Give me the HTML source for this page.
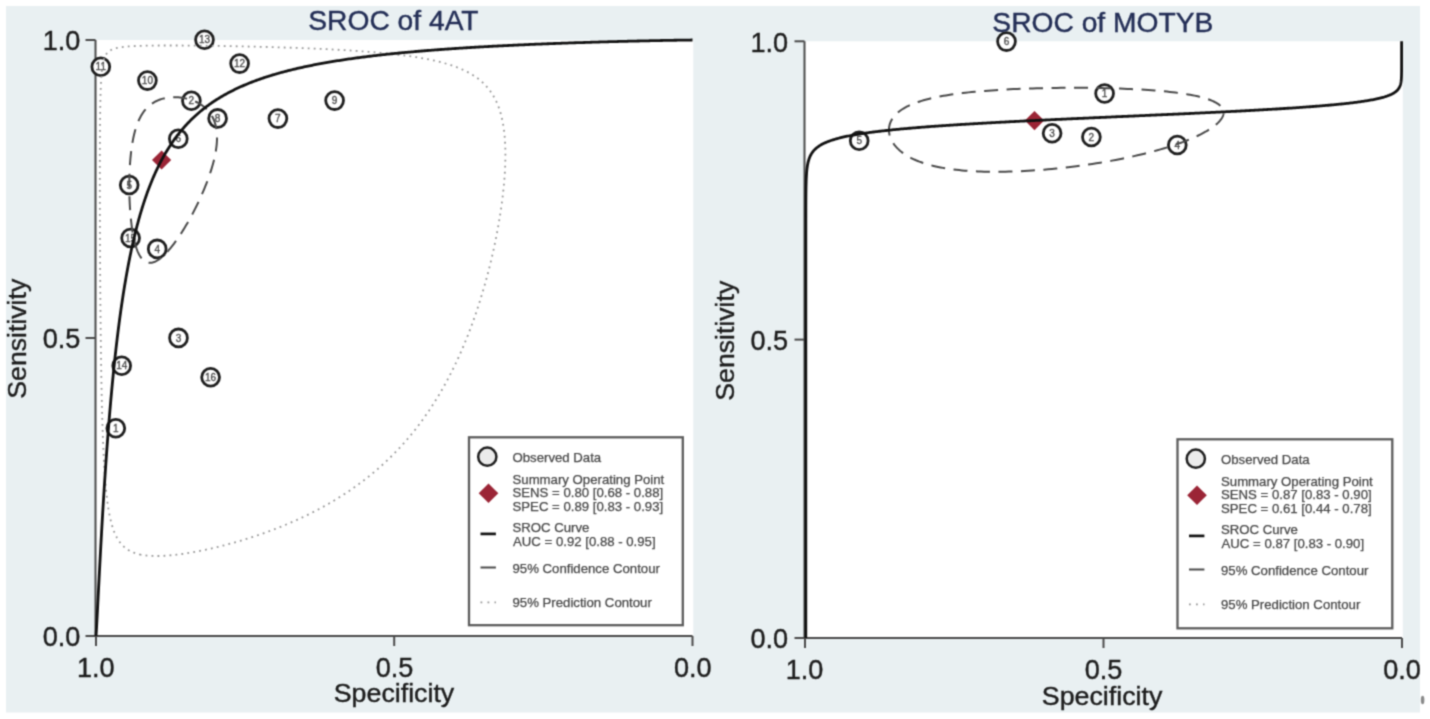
<!DOCTYPE html><html><head><meta charset="utf-8"><title>SROC</title><style>html,body{margin:0;padding:0;background:#fff;overflow:hidden}svg{display:block}</style></head><body>
<svg width="1430" height="719" viewBox="0 0 1430 719">
<defs><filter id="soft" x="0" y="0" width="1430" height="719" filterUnits="userSpaceOnUse" color-interpolation-filters="sRGB"><feConvolveMatrix order="3" kernelMatrix="1 3 1 3 9 3 1 3 1" edgeMode="duplicate" preserveAlpha="true"/></filter></defs>
<g filter="url(#soft)">
<rect width="1430" height="719" fill="#fff"/>
<rect x="6" y="6" width="1414" height="706.5" fill="#e9f0f2"/>
<rect x="96" y="40" width="597.3" height="596" fill="#fff"/>
<rect x="805" y="41.3" width="597.8" height="596.7" fill="#fff"/>
<rect x="469" y="437.3" width="213.79999999999995" height="187.90000000000003" fill="#fff" stroke="#5c5c5c" stroke-width="2.3"/>
<circle cx="487.3" cy="456.7" r="9.1" fill="#ebebeb" stroke="#1e1e1e" stroke-width="2.5"/>
<text x="512.51" y="462.20" font-size="13.2" fill="#474747" font-family="&apos;Liberation Sans&apos;, sans-serif"  stroke="#474747" stroke-width="0.25">Observed Data</text>
<path d="M488.5 483.4 L498.3 493.2 L488.5 503.0 L478.7 493.2 Z" fill="#9b2536"/>
<text x="512.51" y="483.70" font-size="13.2" fill="#474747" font-family="&apos;Liberation Sans&apos;, sans-serif"  stroke="#474747" stroke-width="0.25">Summary Operating Point</text>
<text x="512.51" y="497.40" font-size="13.2" fill="#474747" font-family="&apos;Liberation Sans&apos;, sans-serif"  stroke="#474747" stroke-width="0.25">SENS = 0.80 [0.68 - 0.88]</text>
<text x="512.51" y="510.60" font-size="13.2" fill="#474747" font-family="&apos;Liberation Sans&apos;, sans-serif"  stroke="#474747" stroke-width="0.25">SPEC = 0.89 [0.83 - 0.93]</text>
<path d="M480.5 533.9 H495.9" stroke="#111111" stroke-width="2.7"/>
<text x="512.51" y="532.40" font-size="13.2" fill="#474747" font-family="&apos;Liberation Sans&apos;, sans-serif"  stroke="#474747" stroke-width="0.25">SROC Curve</text>
<text x="513.03" y="545.90" font-size="13.2" fill="#474747" font-family="&apos;Liberation Sans&apos;, sans-serif"  stroke="#474747" stroke-width="0.25">AUC = 0.92 [0.88 - 0.95]</text>
<path d="M480.5 567.5 H495.9" stroke="#4a4a4a" stroke-width="2"/>
<text x="512.51" y="573.30" font-size="13.2" fill="#474747" font-family="&apos;Liberation Sans&apos;, sans-serif"  stroke="#474747" stroke-width="0.25">95% Confidence Contour</text>
<path d="M480.5 602.4 H496" stroke="#989898" stroke-width="1.8" stroke-dasharray="1.8 5.2"/>
<text x="512.51" y="607.10" font-size="13.2" fill="#474747" font-family="&apos;Liberation Sans&apos;, sans-serif"  stroke="#474747" stroke-width="0.25">95% Prediction Contour</text>
<rect x="1177.5" y="439.3" width="214.79999999999995" height="188.99999999999994" fill="#fff" stroke="#5c5c5c" stroke-width="2.3"/>
<circle cx="1195.8" cy="458.7" r="9.1" fill="#ebebeb" stroke="#1e1e1e" stroke-width="2.5"/>
<text x="1221.01" y="464.20" font-size="13.2" fill="#474747" font-family="&apos;Liberation Sans&apos;, sans-serif"  stroke="#474747" stroke-width="0.25">Observed Data</text>
<path d="M1197.0 485.4 L1206.8 495.2 L1197.0 505.0 L1187.2 495.2 Z" fill="#9b2536"/>
<text x="1221.01" y="485.70" font-size="13.2" fill="#474747" font-family="&apos;Liberation Sans&apos;, sans-serif"  stroke="#474747" stroke-width="0.25">Summary Operating Point</text>
<text x="1221.01" y="499.40" font-size="13.2" fill="#474747" font-family="&apos;Liberation Sans&apos;, sans-serif"  stroke="#474747" stroke-width="0.25">SENS = 0.87 [0.83 - 0.90]</text>
<text x="1221.01" y="512.60" font-size="13.2" fill="#474747" font-family="&apos;Liberation Sans&apos;, sans-serif"  stroke="#474747" stroke-width="0.25">SPEC = 0.61 [0.44 - 0.78]</text>
<path d="M1189.0 535.9 H1204.4" stroke="#111111" stroke-width="2.7"/>
<text x="1221.01" y="534.40" font-size="13.2" fill="#474747" font-family="&apos;Liberation Sans&apos;, sans-serif"  stroke="#474747" stroke-width="0.25">SROC Curve</text>
<text x="1221.53" y="547.90" font-size="13.2" fill="#474747" font-family="&apos;Liberation Sans&apos;, sans-serif"  stroke="#474747" stroke-width="0.25">AUC = 0.87 [0.83 - 0.90]</text>
<path d="M1189.0 569.5 H1204.4" stroke="#4a4a4a" stroke-width="2"/>
<text x="1221.01" y="575.30" font-size="13.2" fill="#474747" font-family="&apos;Liberation Sans&apos;, sans-serif"  stroke="#474747" stroke-width="0.25">95% Confidence Contour</text>
<path d="M1189.0 604.4 H1204.5" stroke="#989898" stroke-width="1.8" stroke-dasharray="1.8 5.2"/>
<text x="1221.01" y="609.10" font-size="13.2" fill="#474747" font-family="&apos;Liberation Sans&apos;, sans-serif"  stroke="#474747" stroke-width="0.25">95% Prediction Contour</text>
<g stroke="#4a4a4a" stroke-width="2" fill="none">
<path d="M95.5 40 V636"/>
<path d="M95.5 636 H692.5"/>
<path d="M85.5 636.0 H95.5"/>
<path d="M85.5 338.0 H95.5"/>
<path d="M85.5 40.0 H95.5"/>
<path d="M96.0 636 V646"/>
<path d="M394.2 636 V646"/>
<path d="M692.5 636 V646"/>
</g>
<g stroke="#4a4a4a" stroke-width="2" fill="none">
<path d="M804.5 41.3 V638"/>
<path d="M804.5 638 H1402"/>
<path d="M794.5 638.0 H804.5"/>
<path d="M794.5 339.6 H804.5"/>
<path d="M794.5 41.3 H804.5"/>
<path d="M805.0 638 V648"/>
<path d="M1103.5 638 V648"/>
<path d="M1402.0 638 V648"/>
</g>
<circle cx="115.8" cy="428.3" r="8.9" fill="#fff" stroke="#1e1e1e" stroke-width="2.8"/>
<text x="115.8" y="431.9" text-anchor="middle" font-size="10" fill="#4f4f4f" stroke="#4f4f4f" stroke-width="0.35" font-family="&apos;Liberation Sans&apos;, sans-serif">1</text>
<circle cx="191.4" cy="100.8" r="8.9" fill="#fff" stroke="#1e1e1e" stroke-width="2.8"/>
<text x="191.4" y="104.4" text-anchor="middle" font-size="10" fill="#4f4f4f" stroke="#4f4f4f" stroke-width="0.35" font-family="&apos;Liberation Sans&apos;, sans-serif">2</text>
<circle cx="178.5" cy="337.9" r="8.9" fill="#fff" stroke="#1e1e1e" stroke-width="2.8"/>
<text x="178.5" y="341.5" text-anchor="middle" font-size="10" fill="#4f4f4f" stroke="#4f4f4f" stroke-width="0.35" font-family="&apos;Liberation Sans&apos;, sans-serif">3</text>
<circle cx="157.2" cy="248.9" r="8.9" fill="#fff" stroke="#1e1e1e" stroke-width="2.8"/>
<text x="157.2" y="252.5" text-anchor="middle" font-size="10" fill="#4f4f4f" stroke="#4f4f4f" stroke-width="0.35" font-family="&apos;Liberation Sans&apos;, sans-serif">4</text>
<circle cx="129.2" cy="185" r="8.9" fill="#fff" stroke="#1e1e1e" stroke-width="2.8"/>
<text x="129.2" y="188.6" text-anchor="middle" font-size="10" fill="#4f4f4f" stroke="#4f4f4f" stroke-width="0.35" font-family="&apos;Liberation Sans&apos;, sans-serif">5</text>
<circle cx="178.3" cy="138.8" r="8.9" fill="#fff" stroke="#1e1e1e" stroke-width="2.8"/>
<text x="178.3" y="142.4" text-anchor="middle" font-size="10" fill="#4f4f4f" stroke="#4f4f4f" stroke-width="0.35" font-family="&apos;Liberation Sans&apos;, sans-serif">6</text>
<circle cx="277.9" cy="118.6" r="8.9" fill="#fff" stroke="#1e1e1e" stroke-width="2.8"/>
<text x="277.9" y="122.2" text-anchor="middle" font-size="10" fill="#4f4f4f" stroke="#4f4f4f" stroke-width="0.35" font-family="&apos;Liberation Sans&apos;, sans-serif">7</text>
<circle cx="217.6" cy="118.4" r="8.9" fill="#fff" stroke="#1e1e1e" stroke-width="2.8"/>
<text x="217.6" y="122.0" text-anchor="middle" font-size="10" fill="#4f4f4f" stroke="#4f4f4f" stroke-width="0.35" font-family="&apos;Liberation Sans&apos;, sans-serif">8</text>
<circle cx="334.6" cy="100.6" r="8.9" fill="#fff" stroke="#1e1e1e" stroke-width="2.8"/>
<text x="334.6" y="104.2" text-anchor="middle" font-size="10" fill="#4f4f4f" stroke="#4f4f4f" stroke-width="0.35" font-family="&apos;Liberation Sans&apos;, sans-serif">9</text>
<circle cx="147.4" cy="80.6" r="8.9" fill="#fff" stroke="#1e1e1e" stroke-width="2.8"/>
<text x="147.4" y="84.2" text-anchor="middle" font-size="10" fill="#4f4f4f" stroke="#4f4f4f" stroke-width="0.35" font-family="&apos;Liberation Sans&apos;, sans-serif">10</text>
<circle cx="100.8" cy="66.7" r="8.9" fill="#fff" stroke="#1e1e1e" stroke-width="2.8"/>
<text x="100.8" y="70.3" text-anchor="middle" font-size="10" fill="#4f4f4f" stroke="#4f4f4f" stroke-width="0.35" font-family="&apos;Liberation Sans&apos;, sans-serif">11</text>
<circle cx="239.6" cy="63.6" r="8.9" fill="#fff" stroke="#1e1e1e" stroke-width="2.8"/>
<text x="239.6" y="67.2" text-anchor="middle" font-size="10" fill="#4f4f4f" stroke="#4f4f4f" stroke-width="0.35" font-family="&apos;Liberation Sans&apos;, sans-serif">12</text>
<circle cx="204.5" cy="39.8" r="8.9" fill="#fff" stroke="#1e1e1e" stroke-width="2.8"/>
<text x="204.5" y="43.4" text-anchor="middle" font-size="10" fill="#4f4f4f" stroke="#4f4f4f" stroke-width="0.35" font-family="&apos;Liberation Sans&apos;, sans-serif">13</text>
<circle cx="121.7" cy="365.8" r="8.9" fill="#fff" stroke="#1e1e1e" stroke-width="2.8"/>
<text x="121.7" y="369.4" text-anchor="middle" font-size="10" fill="#4f4f4f" stroke="#4f4f4f" stroke-width="0.35" font-family="&apos;Liberation Sans&apos;, sans-serif">14</text>
<circle cx="130.6" cy="238" r="8.9" fill="#fff" stroke="#1e1e1e" stroke-width="2.8"/>
<text x="130.6" y="241.6" text-anchor="middle" font-size="10" fill="#4f4f4f" stroke="#4f4f4f" stroke-width="0.35" font-family="&apos;Liberation Sans&apos;, sans-serif">15</text>
<circle cx="210.6" cy="377.2" r="8.9" fill="#fff" stroke="#1e1e1e" stroke-width="2.8"/>
<text x="210.6" y="380.8" text-anchor="middle" font-size="10" fill="#4f4f4f" stroke="#4f4f4f" stroke-width="0.35" font-family="&apos;Liberation Sans&apos;, sans-serif">16</text>
<circle cx="1104.6" cy="93.5" r="8.9" fill="#fff" stroke="#1e1e1e" stroke-width="2.8"/>
<text x="1104.6" y="97.1" text-anchor="middle" font-size="10" fill="#4f4f4f" stroke="#4f4f4f" stroke-width="0.35" font-family="&apos;Liberation Sans&apos;, sans-serif">1</text>
<circle cx="1091.4" cy="137" r="8.9" fill="#fff" stroke="#1e1e1e" stroke-width="2.8"/>
<text x="1091.4" y="140.6" text-anchor="middle" font-size="10" fill="#4f4f4f" stroke="#4f4f4f" stroke-width="0.35" font-family="&apos;Liberation Sans&apos;, sans-serif">2</text>
<circle cx="1052.1" cy="133.2" r="8.9" fill="#fff" stroke="#1e1e1e" stroke-width="2.8"/>
<text x="1052.1" y="136.8" text-anchor="middle" font-size="10" fill="#4f4f4f" stroke="#4f4f4f" stroke-width="0.35" font-family="&apos;Liberation Sans&apos;, sans-serif">3</text>
<circle cx="1177.3" cy="145" r="8.9" fill="#fff" stroke="#1e1e1e" stroke-width="2.8"/>
<text x="1177.3" y="148.6" text-anchor="middle" font-size="10" fill="#4f4f4f" stroke="#4f4f4f" stroke-width="0.35" font-family="&apos;Liberation Sans&apos;, sans-serif">4</text>
<circle cx="859.2" cy="140.8" r="8.9" fill="#fff" stroke="#1e1e1e" stroke-width="2.8"/>
<text x="859.2" y="144.4" text-anchor="middle" font-size="10" fill="#4f4f4f" stroke="#4f4f4f" stroke-width="0.35" font-family="&apos;Liberation Sans&apos;, sans-serif">5</text>
<circle cx="1006.5" cy="41.6" r="8.9" fill="#fff" stroke="#1e1e1e" stroke-width="2.8"/>
<text x="1006.5" y="45.2" text-anchor="middle" font-size="10" fill="#4f4f4f" stroke="#4f4f4f" stroke-width="0.35" font-family="&apos;Liberation Sans&apos;, sans-serif">6</text>
<path d="M161.6 150.4 L171.2 160 L161.6 169.6 L152.0 160 Z" fill="#9b2536"/>
<path d="M1034.5 111.0 L1044.1 120.6 L1034.5 130.2 L1024.9 120.6 Z" fill="#9b2536"/>
<path d="M140.87 554.67 L139.40 554.35 L137.97 554.00 L136.59 553.61 L135.26 553.18 L133.97 552.72 L132.72 552.23 L131.51 551.69 L130.34 551.12 L129.21 550.52 L128.12 549.87 L127.07 549.19 L126.05 548.46 L125.07 547.70 L124.12 546.89 L123.20 546.05 L122.32 545.16 L121.46 544.23 L120.64 543.25 L119.84 542.23 L119.07 541.16 L118.33 540.04 L117.61 538.88 L116.92 537.67 L116.26 536.41 L115.62 535.09 L115.00 533.72 L114.40 532.30 L113.82 530.83 L113.27 529.30 L112.73 527.71 L112.22 526.06 L111.72 524.35 L111.24 522.58 L110.78 520.74 L110.34 518.84 L109.91 516.88 L109.49 514.84 L109.09 512.74 L108.71 510.57 L108.34 508.33 L107.98 506.01 L107.64 503.61 L107.31 501.14 L106.99 498.60 L106.69 495.97 L106.39 493.26 L106.11 490.47 L105.83 487.59 L105.57 484.63 L105.31 481.59 L105.07 478.46 L104.83 475.23 L104.61 471.92 L104.39 468.52 L104.18 465.03 L103.98 461.45 L103.78 457.77 L103.59 454.00 L103.41 450.14 L103.24 446.18 L103.07 442.14 L102.91 438.00 L102.76 433.76 L102.61 429.44 L102.47 425.02 L102.33 420.51 L102.20 415.92 L102.07 411.23 L101.95 406.47 L101.83 401.62 L101.72 396.68 L101.61 391.67 L101.51 386.58 L101.41 381.42 L101.31 376.19 L101.22 370.90 L101.14 365.54 L101.05 360.12 L100.97 354.65 L100.89 349.12 L100.82 343.56 L100.75 337.95 L100.68 332.31 L100.62 326.63 L100.56 320.94 L100.50 315.22 L100.45 309.49 L100.39 303.75 L100.34 298.01 L100.30 292.27 L100.25 286.54 L100.21 280.82 L100.17 275.13 L100.13 269.46 L100.10 263.82 L100.07 258.23 L100.04 252.67 L100.01 247.16 L99.98 241.70 L99.96 236.31 L99.94 230.97 L99.92 225.70 L99.90 220.50 L99.88 215.37 L99.87 210.33 L99.86 205.36 L99.85 200.48 L99.84 195.69 L99.83 190.98 L99.83 186.37 L99.83 181.86 L99.83 177.43 L99.83 173.11 L99.83 168.88 L99.84 164.76 L99.84 160.73 L99.85 156.81 L99.86 152.98 L99.88 149.26 L99.89 145.63 L99.91 142.11 L99.92 138.68 L99.94 135.36 L99.97 132.13 L99.99 128.99 L100.02 125.95 L100.04 123.01 L100.07 120.16 L100.11 117.40 L100.14 114.72 L100.18 112.14 L100.21 109.64 L100.25 107.22 L100.30 104.88 L100.34 102.63 L100.39 100.45 L100.44 98.35 L100.49 96.32 L100.54 94.36 L100.60 92.47 L100.66 90.65 L100.72 88.90 L100.79 87.20 L100.86 85.57 L100.93 84.00 L101.00 82.49 L101.08 81.03 L101.16 79.63 L101.24 78.28 L101.33 76.98 L101.42 75.73 L101.51 74.52 L101.61 73.36 L101.71 72.25 L101.81 71.18 L101.92 70.14 L102.04 69.15 L102.15 68.19 L102.27 67.27 L102.40 66.39 L102.53 65.54 L102.67 64.72 L102.81 63.93 L102.95 63.17 L103.11 62.45 L103.26 61.74 L103.43 61.07 L103.59 60.42 L103.77 59.80 L103.95 59.20 L104.14 58.62 L104.33 58.07 L104.54 57.53 L104.75 57.02 L104.97 56.52 L105.19 56.05 L105.43 55.59 L105.67 55.15 L105.92 54.73 L106.18 54.32 L106.45 53.93 L106.73 53.55 L107.03 53.19 L107.33 52.84 L107.64 52.50 L107.97 52.18 L108.31 51.87 L108.66 51.57 L109.02 51.28 L109.40 51.01 L109.79 50.74 L110.19 50.49 L110.62 50.24 L111.05 50.00 L111.51 49.78 L111.98 49.56 L112.47 49.35 L112.97 49.14 L113.50 48.95 L114.04 48.76 L114.61 48.58 L115.20 48.41 L115.81 48.25 L116.44 48.09 L117.10 47.93 L117.78 47.79 L118.49 47.65 L119.22 47.51 L119.98 47.38 L120.77 47.26 L121.59 47.14 L122.44 47.03 L123.33 46.92 L124.24 46.82 L125.19 46.72 L126.17 46.62 L127.19 46.53 L128.25 46.45 L129.34 46.37 L130.48 46.29 L131.65 46.22 L132.87 46.15 L134.13 46.08 L135.43 46.02 L136.78 45.96 L138.18 45.91 L139.63 45.86 L141.12 45.81 L142.67 45.77 L144.27 45.73 L145.92 45.69 L147.63 45.65 L149.40 45.62 L151.22 45.60 L153.10 45.57 L155.03 45.55 L157.03 45.53 L159.09 45.52 L161.22 45.50 L163.40 45.50 L165.65 45.49 L167.97 45.49 L170.35 45.49 L172.80 45.49 L175.32 45.50 L177.90 45.51 L180.56 45.52 L183.28 45.53 L186.06 45.55 L188.92 45.58 L191.85 45.60 L194.84 45.63 L197.91 45.66 L201.04 45.70 L204.23 45.74 L207.50 45.78 L210.83 45.82 L214.22 45.87 L217.68 45.93 L221.19 45.98 L224.77 46.04 L228.41 46.11 L232.11 46.18 L235.86 46.25 L239.66 46.33 L243.52 46.41 L247.42 46.49 L251.37 46.59 L255.36 46.68 L259.40 46.78 L263.47 46.89 L267.58 47.00 L271.72 47.11 L275.89 47.24 L280.09 47.36 L284.31 47.50 L288.55 47.64 L292.81 47.78 L297.08 47.93 L301.36 48.09 L305.65 48.26 L309.94 48.43 L314.24 48.62 L318.53 48.81 L322.81 49.00 L327.08 49.21 L331.34 49.42 L335.59 49.65 L339.82 49.88 L344.02 50.12 L348.20 50.38 L352.36 50.64 L356.48 50.92 L360.57 51.20 L364.62 51.50 L368.64 51.81 L372.61 52.14 L376.55 52.47 L380.44 52.83 L384.28 53.19 L388.07 53.57 L391.82 53.97 L395.51 54.38 L399.15 54.81 L402.73 55.26 L406.26 55.72 L409.73 56.21 L413.14 56.71 L416.50 57.23 L419.79 57.78 L423.02 58.35 L426.19 58.94 L429.29 59.55 L432.34 60.19 L435.32 60.86 L438.23 61.55 L441.08 62.27 L443.87 63.02 L446.59 63.80 L449.25 64.61 L451.85 65.45 L454.37 66.33 L456.84 67.24 L459.24 68.19 L461.57 69.17 L463.84 70.19 L466.05 71.26 L468.19 72.36 L470.27 73.51 L472.29 74.70 L474.24 75.94 L476.13 77.23 L477.96 78.57 L479.72 79.96 L481.43 81.40 L483.07 82.89 L484.65 84.45 L486.17 86.06 L487.63 87.73 L489.03 89.46 L490.37 91.25 L491.66 93.11 L492.88 95.04 L494.04 97.04 L495.15 99.11 L496.20 101.25 L497.19 103.47 L498.12 105.76 L499.00 108.13 L499.82 110.58 L500.58 113.12 L501.29 115.74 L501.94 118.44 L502.54 121.23 L503.07 124.11 L503.56 127.07 L503.98 130.13 L504.35 133.28 L504.67 136.53 L504.93 139.87 L505.13 143.30 L505.28 146.83 L505.37 150.46 L505.41 154.18 L505.39 158.00 L505.31 161.92 L505.18 165.93 L504.99 170.04 L504.74 174.25 L504.44 178.55 L504.08 182.94 L503.66 187.43 L503.19 192.00 L502.65 196.67 L502.06 201.42 L501.41 206.26 L500.70 211.17 L499.93 216.17 L499.10 221.24 L498.21 226.39 L497.25 231.60 L496.24 236.88 L495.16 242.22 L494.03 247.62 L492.83 253.07 L491.56 258.56 L490.23 264.10 L488.84 269.68 L487.39 275.29 L485.86 280.93 L484.27 286.58 L482.62 292.26 L480.90 297.95 L479.11 303.64 L477.25 309.33 L475.33 315.02 L473.34 320.70 L471.28 326.36 L469.15 332.00 L466.95 337.61 L464.68 343.19 L462.34 348.74 L459.93 354.25 L457.45 359.70 L454.91 365.11 L452.29 370.47 L449.60 375.76 L446.84 381.00 L444.01 386.17 L441.12 391.26 L438.15 396.29 L435.12 401.24 L432.02 406.11 L428.85 410.90 L425.62 415.61 L422.32 420.24 L418.95 424.77 L415.53 429.22 L412.04 433.59 L408.49 437.86 L404.88 442.04 L401.21 446.12 L397.49 450.12 L393.71 454.02 L389.88 457.83 L386.00 461.55 L382.07 465.18 L378.10 468.71 L374.08 472.15 L370.03 475.50 L365.93 478.77 L361.80 481.94 L357.63 485.02 L353.43 488.02 L349.21 490.93 L344.96 493.75 L340.69 496.50 L336.41 499.16 L332.11 501.73 L327.79 504.23 L323.47 506.65 L319.15 509.00 L314.82 511.26 L310.49 513.46 L306.17 515.58 L301.86 517.63 L297.56 519.61 L293.28 521.52 L289.01 523.37 L284.77 525.15 L280.55 526.87 L276.35 528.52 L272.19 530.11 L268.06 531.65 L263.97 533.12 L259.92 534.54 L255.91 535.91 L251.94 537.21 L248.02 538.47 L244.15 539.67 L240.33 540.83 L236.56 541.93 L232.85 542.99 L229.19 543.99 L225.59 544.95 L222.05 545.87 L218.57 546.74 L215.16 547.56 L211.80 548.35 L208.51 549.09 L205.29 549.79 L202.13 550.45 L199.03 551.07 L196.01 551.65 L193.04 552.19 L190.15 552.70 L187.32 553.16 L184.55 553.59 L181.86 553.99 L179.23 554.35 L176.66 554.67 L174.16 554.96 L171.72 555.21 L169.35 555.43 L167.04 555.61 L164.80 555.76 L162.61 555.88 L160.49 555.96 L158.43 556.01 L156.42 556.03 L154.48 556.01 L152.59 555.96 L150.75 555.88 L148.98 555.76 L147.25 555.61 L145.58 555.42 L143.96 555.21 L142.39 554.96 L140.87 554.67 Z" fill="none" stroke="#989898" stroke-width="1.8" stroke-dasharray="1.8 4.2"/>
<path d="M138.87 254.05 L138.41 253.08 L137.95 252.07 L137.51 251.02 L137.08 249.92 L136.66 248.78 L136.26 247.60 L135.87 246.37 L135.49 245.11 L135.12 243.80 L134.77 242.46 L134.42 241.07 L134.09 239.65 L133.77 238.20 L133.47 236.71 L133.17 235.19 L132.89 233.63 L132.61 232.05 L132.35 230.43 L132.10 228.79 L131.86 227.12 L131.63 225.42 L131.42 223.70 L131.21 221.96 L131.02 220.20 L130.83 218.41 L130.66 216.61 L130.50 214.79 L130.34 212.95 L130.20 211.10 L130.07 209.23 L129.95 207.36 L129.84 205.47 L129.74 203.57 L129.65 201.67 L129.57 199.76 L129.50 197.85 L129.44 195.93 L129.39 194.01 L129.36 192.09 L129.33 190.17 L129.31 188.25 L129.30 186.33 L129.30 184.42 L129.31 182.51 L129.34 180.62 L129.37 178.72 L129.41 176.84 L129.47 174.97 L129.53 173.11 L129.60 171.26 L129.68 169.43 L129.78 167.61 L129.88 165.80 L130.00 164.01 L130.12 162.24 L130.26 160.49 L130.40 158.75 L130.56 157.04 L130.73 155.34 L130.90 153.67 L131.09 152.01 L131.29 150.38 L131.50 148.77 L131.72 147.18 L131.96 145.62 L132.20 144.08 L132.46 142.57 L132.72 141.08 L133.00 139.61 L133.29 138.17 L133.59 136.76 L133.90 135.37 L134.22 134.00 L134.56 132.67 L134.91 131.36 L135.27 130.07 L135.64 128.81 L136.02 127.58 L136.42 126.38 L136.83 125.20 L137.25 124.05 L137.69 122.92 L138.13 121.82 L138.59 120.75 L139.07 119.71 L139.55 118.69 L140.05 117.69 L140.56 116.72 L141.09 115.78 L141.62 114.87 L142.17 113.98 L142.74 113.11 L143.32 112.27 L143.91 111.46 L144.51 110.67 L145.13 109.90 L145.76 109.16 L146.41 108.44 L147.07 107.75 L147.74 107.08 L148.42 106.44 L149.12 105.82 L149.84 105.22 L150.56 104.64 L151.30 104.09 L152.05 103.56 L152.81 103.05 L153.59 102.57 L154.38 102.10 L155.18 101.66 L156.00 101.24 L156.83 100.84 L157.67 100.47 L158.52 100.11 L159.38 99.78 L160.25 99.46 L161.14 99.17 L162.03 98.90 L162.94 98.65 L163.85 98.42 L164.78 98.21 L165.71 98.02 L166.66 97.85 L167.61 97.70 L168.57 97.56 L169.54 97.45 L170.51 97.36 L171.49 97.29 L172.48 97.24 L173.47 97.21 L174.47 97.20 L175.47 97.21 L176.48 97.23 L177.49 97.28 L178.50 97.35 L179.52 97.44 L180.53 97.54 L181.55 97.67 L182.57 97.82 L183.58 97.98 L184.60 98.17 L185.61 98.38 L186.62 98.60 L187.62 98.85 L188.63 99.12 L189.62 99.41 L190.61 99.72 L191.60 100.05 L192.57 100.40 L193.54 100.77 L194.50 101.17 L195.45 101.58 L196.38 102.02 L197.31 102.48 L198.22 102.96 L199.12 103.46 L200.01 103.99 L200.88 104.54 L201.74 105.11 L202.58 105.70 L203.40 106.32 L204.21 106.96 L204.99 107.62 L205.76 108.31 L206.51 109.02 L207.24 109.76 L207.94 110.52 L208.62 111.31 L209.29 112.12 L209.92 112.95 L210.54 113.81 L211.12 114.70 L211.69 115.61 L212.22 116.55 L212.74 117.51 L213.22 118.50 L213.68 119.51 L214.11 120.55 L214.51 121.62 L214.88 122.72 L215.22 123.84 L215.54 124.98 L215.82 126.16 L216.08 127.36 L216.30 128.58 L216.50 129.83 L216.66 131.11 L216.79 132.42 L216.90 133.75 L216.97 135.11 L217.01 136.49 L217.02 137.90 L217.00 139.34 L216.94 140.80 L216.86 142.29 L216.74 143.80 L216.60 145.33 L216.42 146.89 L216.22 148.47 L215.98 150.08 L215.71 151.71 L215.41 153.36 L215.09 155.03 L214.73 156.72 L214.35 158.43 L213.94 160.16 L213.50 161.91 L213.03 163.68 L212.53 165.47 L212.01 167.27 L211.46 169.09 L210.89 170.92 L210.29 172.77 L209.67 174.62 L209.02 176.49 L208.35 178.37 L207.66 180.26 L206.95 182.16 L206.21 184.06 L205.45 185.97 L204.68 187.89 L203.89 189.81 L203.07 191.73 L202.24 193.65 L201.40 195.57 L200.53 197.49 L199.65 199.40 L198.76 201.31 L197.86 203.22 L196.94 205.12 L196.01 207.01 L195.06 208.89 L194.11 210.75 L193.15 212.61 L192.18 214.45 L191.20 216.27 L190.21 218.08 L189.22 219.87 L188.22 221.63 L187.22 223.38 L186.21 225.11 L185.20 226.81 L184.19 228.48 L183.17 230.13 L182.16 231.75 L181.14 233.34 L180.12 234.90 L179.11 236.43 L178.09 237.92 L177.08 239.38 L176.07 240.81 L175.07 242.20 L174.07 243.55 L173.07 244.87 L172.08 246.14 L171.10 247.37 L170.12 248.56 L169.14 249.71 L168.18 250.82 L167.22 251.88 L166.27 252.90 L165.33 253.87 L164.40 254.79 L163.48 255.67 L162.57 256.50 L161.67 257.28 L160.78 258.01 L159.90 258.70 L159.03 259.33 L158.17 259.91 L157.33 260.44 L156.49 260.92 L155.67 261.35 L154.86 261.72 L154.06 262.04 L153.28 262.32 L152.50 262.53 L151.75 262.70 L151.00 262.81 L150.27 262.87 L149.55 262.87 L148.84 262.82 L148.15 262.72 L147.47 262.57 L146.80 262.36 L146.15 262.10 L145.51 261.79 L144.88 261.42 L144.27 261.00 L143.67 260.53 L143.08 260.01 L142.51 259.44 L141.95 258.82 L141.40 258.15 L140.87 257.42 L140.35 256.65 L139.85 255.83 L139.35 254.96 L138.87 254.05 Z" fill="none" stroke="#4a4a4a" stroke-width="2" stroke-dasharray="14 8.5"/>
<path d="M96.00 636.00 L96.08 635.00 L96.15 633.99 L96.22 632.97 L96.28 631.94 L96.34 630.90 L96.40 629.89 L96.46 628.85 L96.52 627.81 L96.58 626.74 L96.64 625.64 L96.70 624.54 L96.76 623.47 L96.81 622.45 L96.87 621.35 L96.93 620.34 L96.98 619.26 L97.04 618.11 L97.10 617.09 L97.15 616.02 L97.21 614.89 L97.28 613.70 L97.33 612.70 L97.38 611.65 L97.44 610.56 L97.50 609.43 L97.56 608.25 L97.62 607.01 L97.69 605.73 L97.75 604.39 L97.81 603.35 L97.86 602.28 L97.92 601.17 L97.98 600.03 L98.04 598.86 L98.10 597.65 L98.16 596.40 L98.23 595.12 L98.30 593.80 L98.37 592.44 L98.44 591.03 L98.51 589.59 L98.59 588.10 L98.64 587.09 L98.69 586.05 L98.75 585.00 L98.80 583.93 L98.86 582.83 L98.92 581.72 L98.98 580.58 L99.04 579.42 L99.10 578.24 L99.16 577.04 L99.22 575.82 L99.29 574.57 L99.35 573.31 L99.42 572.01 L99.49 570.70 L99.56 569.36 L99.63 568.00 L99.70 566.61 L99.78 565.20 L99.85 563.77 L99.93 562.31 L100.01 560.82 L100.09 559.31 L100.17 557.77 L100.26 556.21 L100.34 554.62 L100.43 553.00 L100.52 551.36 L100.61 549.69 L100.70 547.99 L100.79 546.26 L100.89 544.51 L100.99 542.73 L101.09 540.92 L101.19 539.08 L101.29 537.22 L101.40 535.32 L101.51 533.40 L101.62 531.45 L101.73 529.47 L101.79 528.46 L101.85 527.46 L101.90 526.44 L101.96 525.42 L102.02 524.38 L102.08 523.35 L102.14 522.30 L102.20 521.25 L102.26 520.19 L102.33 519.12 L102.39 518.04 L102.45 516.96 L102.52 515.87 L102.58 514.77 L102.65 513.67 L102.71 512.55 L102.78 511.43 L102.85 510.31 L102.92 509.17 L102.98 508.03 L103.05 506.88 L103.12 505.72 L103.20 504.56 L103.27 503.38 L103.34 502.20 L103.41 501.02 L103.49 499.82 L103.56 498.62 L103.63 497.41 L103.71 496.19 L103.79 494.97 L103.86 493.74 L103.94 492.50 L104.02 491.25 L104.10 490.00 L104.18 488.74 L104.26 487.47 L104.34 486.19 L104.43 484.91 L104.51 483.62 L104.59 482.32 L104.68 481.02 L104.76 479.70 L104.85 478.39 L104.94 477.06 L105.03 475.73 L105.12 474.39 L105.21 473.04 L105.30 471.69 L105.39 470.32 L105.48 468.96 L105.58 467.58 L105.67 466.20 L105.77 464.81 L105.86 463.42 L105.96 462.01 L106.06 460.61 L106.16 459.19 L106.26 457.77 L106.36 456.34 L106.46 454.91 L106.57 453.46 L106.67 452.02 L106.78 450.56 L106.88 449.10 L106.99 447.64 L107.10 446.16 L107.21 444.68 L107.32 443.20 L107.43 441.71 L107.54 440.21 L107.66 438.71 L107.77 437.20 L107.89 435.69 L108.00 434.17 L108.12 432.64 L108.24 431.11 L108.36 429.57 L108.48 428.03 L108.61 426.48 L108.73 424.93 L108.86 423.37 L108.98 421.81 L109.11 420.24 L109.24 418.67 L109.37 417.09 L109.50 415.51 L109.63 413.92 L109.77 412.33 L109.90 410.74 L110.04 409.14 L110.18 407.53 L110.32 405.92 L110.46 404.31 L110.60 402.69 L110.74 401.07 L110.88 399.44 L111.03 397.81 L111.18 396.18 L111.33 394.55 L111.48 392.91 L111.63 391.26 L111.78 389.61 L111.94 387.96 L112.09 386.31 L112.25 384.65 L112.41 382.99 L112.57 381.33 L112.73 379.67 L112.89 378.00 L113.06 376.33 L113.22 374.66 L113.39 372.98 L113.56 371.30 L113.73 369.62 L113.91 367.94 L114.08 366.26 L114.26 364.57 L114.44 362.89 L114.61 361.20 L114.80 359.51 L114.98 357.82 L115.16 356.12 L115.35 354.43 L115.54 352.74 L115.73 351.04 L115.92 349.34 L116.11 347.65 L116.31 345.95 L116.51 344.25 L116.70 342.55 L116.91 340.85 L117.11 339.15 L117.31 337.45 L117.52 335.75 L117.73 334.05 L117.94 332.35 L118.15 330.65 L118.36 328.96 L118.58 327.26 L118.80 325.56 L119.02 323.86 L119.24 322.17 L119.47 320.47 L119.69 318.78 L119.92 317.09 L120.15 315.40 L120.38 313.71 L120.62 312.02 L120.86 310.34 L121.10 308.65 L121.34 306.97 L121.58 305.29 L121.83 303.61 L122.08 301.94 L122.33 300.26 L122.58 298.59 L122.83 296.92 L123.09 295.26 L123.35 293.59 L123.61 291.93 L123.88 290.28 L124.15 288.62 L124.41 286.97 L124.69 285.32 L124.96 283.68 L125.24 282.03 L125.52 280.40 L125.80 278.76 L126.08 277.13 L126.37 275.51 L126.66 273.88 L126.95 272.26 L127.25 270.65 L127.54 269.04 L127.84 267.43 L128.15 265.83 L128.45 264.23 L128.76 262.64 L129.07 261.05 L129.39 259.47 L129.70 257.89 L130.02 256.31 L130.34 254.74 L130.67 253.18 L131.00 251.62 L131.33 250.06 L131.66 248.52 L132.00 246.97 L132.34 245.43 L132.68 243.90 L133.03 242.37 L133.38 240.85 L133.73 239.33 L134.08 237.82 L134.44 236.32 L134.80 234.82 L135.17 233.33 L135.53 231.84 L135.91 230.36 L136.28 228.89 L136.66 227.42 L137.04 225.95 L137.42 224.50 L137.81 223.05 L138.20 221.60 L138.59 220.17 L138.99 218.74 L139.39 217.31 L139.79 215.89 L140.20 214.48 L140.61 213.08 L141.03 211.68 L141.45 210.29 L141.87 208.91 L142.29 207.53 L142.72 206.16 L143.15 204.80 L143.59 203.44 L144.03 202.09 L144.47 200.75 L144.92 199.41 L145.37 198.08 L145.83 196.76 L146.29 195.45 L146.75 194.14 L147.21 192.84 L147.68 191.55 L148.16 190.26 L148.64 188.98 L149.12 187.71 L149.60 186.45 L150.09 185.19 L150.59 183.94 L151.09 182.70 L151.59 181.47 L152.09 180.24 L152.60 179.02 L153.12 177.81 L153.64 176.60 L154.16 175.41 L154.69 174.22 L155.22 173.03 L155.75 171.86 L156.29 170.69 L156.84 169.53 L157.39 168.38 L157.94 167.23 L158.50 166.10 L159.06 164.96 L159.63 163.84 L160.20 162.73 L160.77 161.62 L161.35 160.52 L161.94 159.43 L162.52 158.34 L163.12 157.26 L163.72 156.19 L164.32 155.13 L164.93 154.07 L165.54 153.02 L166.15 151.98 L166.78 150.95 L167.40 149.92 L168.03 148.90 L168.67 147.89 L169.31 146.89 L169.96 145.89 L170.61 144.90 L171.26 143.92 L171.92 142.94 L172.59 141.98 L173.26 141.01 L173.93 140.06 L174.61 139.12 L175.30 138.18 L175.99 137.24 L176.68 136.32 L177.38 135.40 L178.09 134.49 L178.80 133.59 L179.51 132.69 L180.24 131.80 L180.96 130.92 L181.69 130.04 L182.43 129.18 L183.17 128.31 L183.92 127.46 L184.67 126.61 L185.43 125.77 L186.19 124.94 L186.96 124.11 L187.73 123.29 L188.51 122.47 L189.30 121.67 L190.09 120.87 L190.88 120.07 L191.68 119.29 L192.49 118.50 L193.30 117.73 L194.12 116.96 L194.94 116.20 L195.77 115.45 L196.60 114.70 L197.44 113.96 L198.29 113.22 L199.14 112.49 L199.99 111.77 L200.85 111.05 L201.72 110.34 L202.59 109.63 L203.47 108.94 L204.36 108.24 L205.25 107.56 L206.14 106.88 L207.04 106.20 L207.95 105.53 L208.86 104.87 L209.78 104.22 L210.70 103.57 L211.63 102.92 L212.57 102.28 L213.51 101.65 L214.45 101.02 L215.41 100.40 L216.37 99.78 L217.33 99.17 L218.30 98.57 L219.27 97.97 L220.25 97.37 L221.24 96.78 L222.23 96.20 L223.23 95.62 L224.24 95.05 L225.25 94.48 L226.26 93.92 L227.28 93.36 L228.31 92.81 L229.34 92.27 L230.38 91.72 L231.42 91.19 L232.47 90.66 L233.53 90.13 L234.59 89.61 L235.66 89.09 L236.73 88.58 L237.81 88.07 L238.89 87.57 L239.98 87.08 L241.08 86.58 L242.18 86.10 L243.28 85.61 L244.40 85.14 L245.51 84.66 L246.64 84.19 L247.77 83.73 L248.90 83.27 L250.04 82.81 L251.19 82.36 L252.34 81.92 L253.49 81.47 L254.66 81.03 L255.82 80.60 L257.00 80.17 L258.17 79.75 L259.36 79.33 L260.55 78.91 L261.74 78.50 L262.94 78.09 L264.15 77.68 L265.36 77.28 L266.57 76.88 L267.79 76.49 L269.02 76.10 L270.25 75.72 L271.49 75.34 L272.73 74.96 L273.97 74.59 L275.22 74.22 L276.48 73.85 L277.74 73.49 L279.01 73.13 L280.28 72.77 L281.56 72.42 L282.84 72.07 L284.12 71.73 L285.41 71.39 L286.71 71.05 L288.01 70.72 L289.31 70.39 L290.62 70.06 L291.94 69.74 L293.25 69.42 L294.58 69.10 L295.90 68.78 L297.23 68.47 L298.57 68.17 L299.91 67.86 L301.26 67.56 L302.60 67.26 L303.96 66.97 L305.31 66.67 L306.67 66.38 L308.04 66.10 L309.41 65.82 L310.78 65.54 L312.16 65.26 L313.54 64.98 L314.92 64.71 L316.31 64.44 L317.70 64.18 L319.10 63.91 L320.49 63.65 L321.90 63.40 L323.30 63.14 L324.71 62.89 L326.12 62.64 L327.54 62.39 L328.96 62.15 L330.38 61.90 L331.80 61.67 L333.23 61.43 L334.66 61.19 L336.09 60.96 L337.53 60.73 L338.97 60.51 L340.41 60.28 L341.85 60.06 L343.30 59.84 L344.75 59.62 L346.20 59.41 L347.65 59.19 L349.11 58.98 L350.57 58.77 L352.03 58.57 L353.49 58.36 L354.96 58.16 L356.42 57.96 L357.89 57.76 L359.36 57.57 L360.83 57.37 L362.31 57.18 L363.78 56.99 L365.26 56.81 L366.74 56.62 L368.22 56.44 L369.70 56.26 L371.18 56.08 L372.66 55.90 L374.15 55.72 L375.63 55.55 L377.12 55.38 L378.60 55.21 L380.09 55.04 L381.58 54.87 L383.07 54.71 L384.56 54.55 L386.05 54.39 L387.54 54.23 L389.03 54.07 L390.52 53.91 L392.01 53.76 L393.50 53.61 L395.00 53.46 L396.49 53.31 L397.98 53.16 L399.47 53.01 L400.96 52.87 L402.45 52.73 L403.94 52.58 L405.43 52.44 L406.92 52.31 L408.41 52.17 L409.90 52.03 L411.38 51.90 L412.87 51.77 L414.35 51.64 L415.84 51.51 L417.32 51.38 L418.80 51.25 L420.28 51.13 L421.76 51.00 L423.24 50.88 L424.72 50.76 L426.19 50.64 L427.67 50.52 L429.14 50.40 L430.61 50.29 L432.08 50.17 L433.54 50.06 L435.01 49.95 L436.47 49.84 L437.93 49.73 L439.39 49.62 L440.85 49.51 L442.30 49.41 L443.75 49.30 L445.20 49.20 L446.65 49.09 L448.09 48.99 L449.53 48.89 L450.97 48.79 L452.41 48.69 L453.84 48.60 L455.27 48.50 L456.70 48.41 L458.12 48.31 L459.54 48.22 L460.96 48.13 L462.38 48.04 L463.79 47.95 L465.20 47.86 L466.60 47.77 L468.01 47.68 L469.40 47.60 L470.80 47.51 L472.19 47.43 L473.58 47.34 L474.96 47.26 L476.34 47.18 L477.72 47.10 L479.09 47.02 L480.46 46.94 L481.83 46.86 L483.19 46.79 L484.54 46.71 L485.90 46.64 L487.24 46.56 L488.59 46.49 L489.93 46.41 L491.27 46.34 L492.60 46.27 L493.92 46.20 L495.25 46.13 L496.56 46.06 L497.88 45.99 L499.19 45.93 L500.49 45.86 L501.79 45.79 L503.09 45.73 L504.38 45.67 L505.66 45.60 L506.94 45.54 L508.22 45.48 L509.49 45.41 L510.76 45.35 L512.02 45.29 L513.28 45.23 L514.53 45.18 L515.77 45.12 L517.01 45.06 L518.25 45.00 L519.48 44.95 L520.71 44.89 L521.93 44.84 L523.14 44.78 L524.35 44.73 L525.56 44.67 L526.76 44.62 L527.95 44.57 L529.14 44.52 L530.33 44.47 L531.50 44.42 L532.68 44.37 L533.84 44.32 L535.01 44.27 L536.16 44.22 L537.31 44.17 L538.46 44.13 L539.60 44.08 L540.73 44.03 L541.86 43.99 L542.99 43.94 L544.10 43.90 L545.22 43.86 L546.32 43.81 L547.42 43.77 L548.52 43.73 L549.61 43.68 L550.69 43.64 L551.77 43.60 L552.84 43.56 L553.91 43.52 L554.97 43.48 L556.03 43.44 L557.08 43.40 L558.12 43.37 L559.16 43.33 L560.19 43.29 L561.22 43.25 L562.24 43.22 L563.25 43.18 L564.26 43.14 L565.27 43.11 L567.26 43.04 L569.23 42.97 L571.17 42.90 L573.09 42.84 L574.99 42.77 L576.87 42.71 L578.72 42.65 L580.55 42.59 L582.36 42.53 L584.14 42.48 L585.91 42.42 L587.65 42.37 L589.36 42.31 L591.06 42.26 L592.73 42.21 L594.38 42.16 L596.01 42.11 L597.62 42.07 L599.20 42.02 L600.77 41.97 L602.31 41.93 L603.83 41.89 L605.33 41.84 L606.81 41.80 L608.26 41.76 L609.70 41.72 L611.12 41.68 L612.51 41.65 L613.89 41.61 L615.24 41.57 L616.58 41.54 L617.89 41.50 L619.19 41.47 L620.47 41.44 L621.72 41.40 L622.96 41.37 L624.18 41.34 L625.38 41.31 L626.56 41.28 L627.73 41.25 L628.87 41.22 L630.00 41.20 L631.11 41.17 L632.21 41.14 L633.28 41.12 L634.34 41.09 L635.38 41.07 L636.41 41.04 L637.41 41.02 L638.90 40.99 L640.34 40.95 L641.75 40.92 L643.13 40.89 L644.47 40.86 L645.78 40.83 L647.05 40.80 L648.30 40.78 L649.51 40.75 L650.69 40.72 L651.84 40.70 L652.97 40.68 L654.06 40.65 L655.12 40.63 L656.16 40.61 L657.17 40.59 L658.48 40.56 L659.74 40.54 L660.96 40.51 L662.13 40.49 L663.26 40.47 L664.35 40.45 L665.41 40.43 L666.42 40.41 L667.64 40.39 L668.81 40.37 L669.92 40.35 L670.98 40.33 L671.99 40.31 L673.15 40.29 L674.24 40.27 L675.28 40.25 L676.41 40.23 L677.47 40.21 L678.60 40.20 L679.64 40.18 L680.73 40.16 L681.83 40.14 L682.92 40.13 L683.99 40.11 L685.01 40.10 L686.05 40.08 L687.10 40.07 L688.12 40.05 L689.15 40.04 L690.16 40.03 L691.16 40.01 L692.16 40.00 L692.50 40.00" fill="none" stroke="#111111" stroke-width="2.8" stroke-linejoin="round"/>
<path d="M889.08 132.17 L889.00 131.24 L888.96 130.31 L888.97 129.38 L889.01 128.45 L889.10 127.54 L889.23 126.62 L889.41 125.71 L889.62 124.81 L889.88 123.91 L890.19 123.02 L890.53 122.14 L890.92 121.27 L891.36 120.40 L891.83 119.54 L892.36 118.69 L892.92 117.85 L893.54 117.01 L894.20 116.19 L894.90 115.38 L895.66 114.57 L896.46 113.78 L897.31 113.00 L898.20 112.22 L899.15 111.46 L900.15 110.71 L901.20 109.97 L902.30 109.24 L903.45 108.53 L904.65 107.82 L905.91 107.13 L907.22 106.45 L908.59 105.78 L910.01 105.12 L911.49 104.47 L913.03 103.84 L914.62 103.22 L916.28 102.61 L917.99 102.01 L919.76 101.43 L921.60 100.86 L923.49 100.30 L925.45 99.75 L927.47 99.22 L929.55 98.70 L931.70 98.19 L933.91 97.70 L936.18 97.21 L938.52 96.74 L940.93 96.28 L943.40 95.84 L945.94 95.40 L948.54 94.98 L951.20 94.57 L953.93 94.18 L956.73 93.79 L959.59 93.42 L962.52 93.06 L965.51 92.72 L968.56 92.38 L971.67 92.06 L974.85 91.75 L978.08 91.45 L981.38 91.16 L984.73 90.89 L988.14 90.63 L991.60 90.38 L995.12 90.14 L998.69 89.91 L1002.30 89.70 L1005.97 89.49 L1009.68 89.30 L1013.43 89.12 L1017.22 88.95 L1021.06 88.80 L1024.92 88.65 L1028.82 88.52 L1032.75 88.40 L1036.70 88.28 L1040.68 88.19 L1044.67 88.10 L1048.69 88.02 L1052.72 87.96 L1056.76 87.90 L1060.80 87.86 L1064.85 87.83 L1068.90 87.81 L1072.95 87.80 L1076.99 87.80 L1081.02 87.82 L1085.03 87.84 L1089.03 87.88 L1093.01 87.93 L1096.97 87.99 L1100.90 88.06 L1104.80 88.14 L1108.67 88.24 L1112.51 88.34 L1116.30 88.46 L1120.06 88.59 L1123.77 88.73 L1127.43 88.88 L1131.04 89.04 L1134.61 89.22 L1138.12 89.40 L1141.57 89.60 L1144.96 89.81 L1148.30 90.03 L1151.57 90.26 L1154.79 90.51 L1157.93 90.77 L1161.01 91.03 L1164.02 91.32 L1166.97 91.61 L1169.84 91.91 L1172.64 92.23 L1175.38 92.56 L1178.03 92.90 L1180.62 93.25 L1183.13 93.62 L1185.57 94.00 L1187.93 94.39 L1190.21 94.79 L1192.42 95.21 L1194.56 95.63 L1196.62 96.07 L1198.60 96.53 L1200.50 96.99 L1202.33 97.47 L1204.09 97.96 L1205.76 98.46 L1207.36 98.98 L1208.88 99.50 L1210.33 100.04 L1211.70 100.60 L1213.00 101.16 L1214.22 101.74 L1215.36 102.33 L1216.43 102.93 L1217.43 103.55 L1218.34 104.18 L1219.19 104.82 L1219.96 105.47 L1220.65 106.13 L1221.27 106.81 L1221.82 107.50 L1222.29 108.20 L1222.69 108.91 L1223.02 109.63 L1223.27 110.36 L1223.45 111.11 L1223.55 111.87 L1223.58 112.63 L1223.54 113.41 L1223.42 114.20 L1223.23 115.00 L1222.97 115.81 L1222.63 116.63 L1222.22 117.46 L1221.73 118.29 L1221.17 119.14 L1220.54 120.00 L1219.83 120.86 L1219.05 121.73 L1218.19 122.61 L1217.26 123.50 L1216.26 124.39 L1215.17 125.29 L1214.02 126.20 L1212.78 127.11 L1211.48 128.03 L1210.09 128.95 L1208.63 129.87 L1207.10 130.80 L1205.48 131.74 L1203.79 132.67 L1202.03 133.61 L1200.19 134.55 L1198.27 135.49 L1196.27 136.44 L1194.20 137.38 L1192.05 138.32 L1189.83 139.26 L1187.53 140.20 L1185.16 141.14 L1182.71 142.07 L1180.19 143.00 L1177.59 143.93 L1174.92 144.85 L1172.17 145.77 L1169.36 146.68 L1166.47 147.59 L1163.52 148.48 L1160.49 149.37 L1157.40 150.26 L1154.24 151.13 L1151.02 151.99 L1147.74 152.84 L1144.39 153.68 L1140.99 154.51 L1137.52 155.32 L1134.01 156.13 L1130.43 156.92 L1126.81 157.69 L1123.14 158.45 L1119.42 159.20 L1115.66 159.92 L1111.86 160.64 L1108.02 161.33 L1104.14 162.01 L1100.24 162.66 L1096.30 163.30 L1092.34 163.92 L1088.36 164.52 L1084.35 165.10 L1080.33 165.65 L1076.30 166.19 L1072.26 166.70 L1068.21 167.19 L1064.16 167.66 L1060.11 168.11 L1056.07 168.53 L1052.03 168.92 L1048.01 169.30 L1043.99 169.64 L1040.00 169.97 L1036.03 170.26 L1032.08 170.53 L1028.16 170.78 L1024.26 171.00 L1020.40 171.19 L1016.58 171.36 L1012.79 171.50 L1009.05 171.62 L1005.34 171.70 L1001.69 171.76 L998.08 171.80 L994.52 171.80 L991.01 171.78 L987.56 171.73 L984.16 171.66 L980.81 171.56 L977.53 171.43 L974.30 171.28 L971.14 171.09 L968.04 170.89 L964.99 170.65 L962.02 170.39 L959.10 170.11 L956.25 169.80 L953.47 169.46 L950.75 169.10 L948.09 168.71 L945.50 168.31 L942.98 167.87 L940.52 167.41 L938.12 166.93 L935.79 166.43 L933.53 165.91 L931.33 165.36 L929.19 164.79 L927.12 164.20 L925.11 163.59 L923.17 162.96 L921.28 162.31 L919.46 161.65 L917.70 160.96 L915.99 160.26 L914.35 159.54 L912.77 158.80 L911.24 158.05 L909.77 157.28 L908.35 156.50 L907.00 155.70 L905.69 154.89 L904.44 154.07 L903.25 153.23 L902.11 152.39 L901.02 151.53 L899.98 150.66 L898.99 149.79 L898.05 148.90 L897.16 148.01 L896.32 147.11 L895.53 146.20 L894.78 145.28 L894.08 144.36 L893.43 143.44 L892.82 142.51 L892.26 141.58 L891.75 140.64 L891.28 139.70 L890.85 138.76 L890.47 137.82 L890.13 136.88 L889.84 135.93 L889.58 134.99 L889.37 134.05 L889.21 133.11 L889.08 132.17 Z" fill="none" stroke="#4a4a4a" stroke-width="2" stroke-dasharray="14 8.5"/>
<path d="M805.80 638.00 L805.80 636.99 L805.80 635.99 L805.80 634.97 L805.80 633.96 L805.80 632.96 L805.80 631.92 L805.80 630.87 L805.80 629.85 L805.80 628.77 L805.80 627.74 L805.80 626.70 L805.80 625.66 L805.80 624.64 L805.80 623.54 L805.80 622.49 L805.80 621.37 L805.80 620.32 L805.80 619.21 L805.80 618.20 L805.80 617.14 L805.80 616.03 L805.80 614.86 L805.80 613.84 L805.80 612.78 L805.80 611.67 L805.80 610.51 L805.80 609.31 L805.80 608.06 L805.80 607.02 L805.80 605.95 L805.80 604.84 L805.80 603.70 L805.80 602.51 L805.80 601.30 L805.80 600.04 L805.80 598.74 L805.80 597.74 L805.80 596.71 L805.80 595.67 L805.80 594.59 L805.80 593.50 L805.80 592.37 L805.80 591.22 L805.80 590.05 L805.80 588.85 L805.80 587.62 L805.80 586.36 L805.80 585.07 L805.80 583.76 L805.80 582.41 L805.80 581.04 L805.80 579.64 L805.80 578.20 L805.80 576.73 L805.80 575.24 L805.80 574.22 L805.80 573.19 L805.80 572.14 L805.80 571.08 L805.80 570.07 L805.80 569.04 L805.80 568.00 L805.80 566.94 L805.80 565.94 L805.80 564.92 L805.80 563.89 L805.80 562.84 L805.80 561.79 L805.80 560.79 L805.80 559.77 L805.80 558.75 L805.80 557.72 L805.80 556.67 L805.80 555.61 L805.80 554.54 L805.80 553.53 L805.80 552.52 L805.80 551.49 L805.80 550.45 L805.80 549.40 L805.80 548.34 L805.80 547.27 L805.80 546.27 L805.80 545.25 L805.80 544.23 L805.80 543.20 L805.80 542.16 L805.80 541.11 L805.80 540.06 L805.80 538.99 L805.80 537.91 L805.80 536.91 L805.80 535.90 L805.80 534.88 L805.80 533.86 L805.80 532.82 L805.80 531.78 L805.80 530.73 L805.80 529.67 L805.80 528.61 L805.80 527.53 L805.80 526.45 L805.80 525.36 L805.80 524.35 L805.80 523.34 L805.80 522.32 L805.80 521.29 L805.80 520.26 L805.80 519.21 L805.80 518.17 L805.80 517.11 L805.80 516.05 L805.80 514.98 L805.80 513.90 L805.80 512.82 L805.80 511.73 L805.80 510.63 L805.80 509.63 L805.80 508.62 L805.80 507.61 L805.80 506.59 L805.80 505.56 L805.80 504.53 L805.80 503.49 L805.80 502.45 L805.80 501.40 L805.80 500.35 L805.80 499.29 L805.80 498.22 L805.80 497.15 L805.80 496.07 L805.80 494.99 L805.80 493.90 L805.80 492.81 L805.80 491.71 L805.80 490.60 L805.80 489.49 L805.80 488.49 L805.80 487.48 L805.80 486.46 L805.80 485.45 L805.80 484.42 L805.80 483.40 L805.80 482.37 L805.80 481.33 L805.80 480.29 L805.80 479.24 L805.80 478.20 L805.80 477.14 L805.80 476.08 L805.80 475.02 L805.80 473.95 L805.80 472.88 L805.80 471.81 L805.80 470.73 L805.80 469.65 L805.80 468.56 L805.80 467.47 L805.80 466.37 L805.80 465.27 L805.80 464.16 L805.80 463.05 L805.80 461.94 L805.80 460.82 L805.80 459.70 L805.80 458.70 L805.80 457.70 L805.80 456.69 L805.80 455.68 L805.80 454.67 L805.80 453.65 L805.80 452.63 L805.80 451.61 L805.80 450.59 L805.80 449.56 L805.80 448.53 L805.80 447.49 L805.80 446.46 L805.80 445.42 L805.80 444.37 L805.80 443.33 L805.80 442.28 L805.80 441.23 L805.80 440.17 L805.80 439.11 L805.80 438.05 L805.80 436.99 L805.80 435.92 L805.80 434.86 L805.80 433.78 L805.80 432.71 L805.80 431.63 L805.80 430.55 L805.80 429.47 L805.80 428.39 L805.80 427.30 L805.80 426.21 L805.80 425.12 L805.80 424.02 L805.80 422.92 L805.80 421.82 L805.80 420.72 L805.80 419.62 L805.80 418.51 L805.80 417.40 L805.80 416.29 L805.80 415.18 L805.80 414.06 L805.80 412.94 L805.80 411.82 L805.80 410.70 L805.80 409.57 L805.80 408.44 L805.80 407.32 L805.80 406.18 L805.80 405.05 L805.80 403.92 L805.80 402.78 L805.80 401.64 L805.80 400.50 L805.80 399.36 L805.80 398.35 L805.80 397.35 L805.80 396.35 L805.80 395.34 L805.80 394.34 L805.80 393.33 L805.80 392.32 L805.80 391.31 L805.80 390.30 L805.80 389.28 L805.80 388.27 L805.80 387.25 L805.80 386.24 L805.80 385.22 L805.80 384.20 L805.80 383.18 L805.80 382.16 L805.80 381.14 L805.80 380.11 L805.80 379.09 L805.80 378.07 L805.80 377.04 L805.80 376.01 L805.80 374.99 L805.80 373.96 L805.80 372.93 L805.80 371.90 L805.80 370.87 L805.80 369.84 L805.80 368.80 L805.80 367.77 L805.80 366.74 L805.80 365.70 L805.80 364.67 L805.80 363.63 L805.80 362.60 L805.80 361.56 L805.80 360.52 L805.80 359.49 L805.80 358.45 L805.80 357.41 L805.80 356.37 L805.80 355.33 L805.80 354.29 L805.80 353.25 L805.80 352.21 L805.80 351.17 L805.80 350.13 L805.80 349.09 L805.80 348.04 L805.80 347.00 L805.80 345.96 L805.80 344.92 L805.80 343.88 L805.80 342.83 L805.80 341.79 L805.80 340.75 L805.80 339.71 L805.80 338.66 L805.80 337.62 L805.80 336.58 L805.80 335.54 L805.80 334.49 L805.80 333.45 L805.80 332.41 L805.80 331.37 L805.80 330.33 L805.80 329.29 L805.80 328.24 L805.80 327.20 L805.80 326.16 L805.80 325.12 L805.80 324.08 L805.80 323.04 L805.80 322.00 L805.80 320.97 L805.80 319.93 L805.80 318.89 L805.80 317.85 L805.80 316.82 L805.80 315.78 L805.80 314.74 L805.80 313.71 L805.80 312.67 L805.80 311.64 L805.80 310.61 L805.80 309.58 L805.80 308.54 L805.80 307.51 L805.80 306.48 L805.80 305.45 L805.80 304.43 L805.80 303.40 L805.80 302.37 L805.80 301.35 L805.80 300.32 L805.80 299.30 L805.80 298.27 L805.80 297.25 L805.80 296.23 L805.80 295.21 L805.80 294.19 L805.80 293.17 L805.80 292.16 L805.80 291.14 L805.80 290.13 L805.80 289.11 L805.80 288.10 L805.80 287.09 L805.80 286.08 L805.80 285.07 L805.80 284.07 L805.80 283.06 L805.80 282.06 L805.80 281.05 L805.80 280.05 L805.80 279.05 L805.80 277.91 L805.80 276.77 L805.80 275.63 L805.80 274.50 L805.80 273.36 L805.80 272.23 L805.80 271.10 L805.80 269.98 L805.80 268.85 L805.80 267.73 L805.80 266.61 L805.80 265.49 L805.80 264.37 L805.80 263.26 L805.80 262.14 L805.80 261.03 L805.80 259.93 L805.80 258.82 L805.80 257.72 L805.80 256.62 L805.80 255.52 L805.80 254.42 L805.80 253.33 L805.80 252.24 L805.80 251.15 L805.80 250.07 L805.80 248.98 L805.80 247.90 L805.80 246.83 L805.80 245.75 L805.80 244.68 L805.80 243.61 L805.80 242.54 L805.80 241.48 L805.80 240.42 L805.80 239.36 L805.80 238.31 L805.80 237.25 L805.80 236.20 L805.80 235.16 L805.80 234.11 L805.80 233.07 L805.80 232.03 L805.81 231.00 L805.81 229.97 L805.81 228.94 L805.81 227.91 L805.81 226.89 L805.81 225.87 L805.81 224.85 L805.81 223.84 L805.81 222.83 L805.81 221.82 L805.81 220.82 L805.81 219.82 L805.81 218.69 L805.82 217.58 L805.82 216.46 L805.82 215.35 L805.82 214.25 L805.82 213.15 L805.82 212.05 L805.83 210.96 L805.83 209.87 L805.83 208.78 L805.83 207.70 L805.84 206.63 L805.84 205.55 L805.85 204.49 L805.85 203.42 L805.85 202.36 L805.86 201.31 L805.86 200.26 L805.87 199.21 L805.88 198.17 L805.88 197.14 L805.89 196.10 L805.90 195.08 L805.91 194.05 L805.92 193.03 L805.93 192.02 L805.95 191.01 L805.96 190.00 L805.97 189.00 L805.99 187.90 L806.01 186.80 L806.04 185.70 L806.06 184.61 L806.09 183.53 L806.12 182.45 L806.15 181.37 L806.19 180.31 L806.23 179.24 L806.27 178.19 L806.32 177.14 L806.38 176.09 L806.44 175.05 L806.51 174.02 L806.58 172.99 L806.66 171.97 L806.75 170.96 L806.85 169.95 L806.96 168.94 L807.09 167.94 L807.22 166.95 L807.39 165.86 L807.57 164.78 L807.78 163.71 L808.00 162.65 L808.26 161.59 L808.54 160.54 L808.86 159.49 L809.22 158.46 L809.57 157.52 L809.97 156.59 L810.40 155.66 L810.88 154.74 L811.41 153.83 L812.00 152.92 L812.64 152.02 L813.28 151.21 L813.97 150.40 L814.73 149.61 L815.46 148.90 L816.25 148.20 L817.11 147.50 L817.91 146.89 L818.77 146.28 L819.69 145.68 L820.67 145.08 L821.56 144.57 L822.51 144.06 L823.51 143.55 L824.57 143.04 L825.50 142.62 L826.48 142.20 L827.50 141.78 L828.57 141.37 L829.69 140.95 L830.87 140.54 L831.84 140.21 L832.86 139.88 L833.91 139.55 L835.00 139.22 L836.13 138.90 L837.31 138.57 L838.52 138.25 L839.78 137.92 L840.76 137.68 L841.76 137.44 L842.78 137.20 L843.84 136.96 L844.92 136.72 L846.03 136.48 L847.17 136.24 L848.34 136.00 L849.54 135.76 L850.77 135.52 L852.04 135.28 L853.33 135.05 L854.66 134.81 L856.03 134.58 L857.42 134.34 L858.86 134.10 L860.32 133.87 L861.32 133.71 L862.34 133.56 L863.37 133.40 L864.42 133.25 L865.48 133.09 L866.57 132.94 L867.67 132.78 L868.79 132.63 L869.92 132.47 L871.07 132.32 L872.25 132.17 L873.44 132.01 L874.65 131.86 L875.87 131.71 L877.12 131.55 L878.38 131.40 L879.67 131.25 L880.97 131.09 L882.30 130.94 L883.64 130.79 L885.00 130.64 L886.39 130.49 L887.79 130.34 L889.22 130.18 L890.66 130.03 L892.13 129.88 L893.62 129.73 L895.12 129.58 L896.65 129.43 L898.20 129.28 L899.78 129.13 L901.37 128.98 L902.99 128.83 L904.62 128.68 L906.28 128.54 L907.97 128.39 L909.67 128.24 L911.40 128.09 L913.15 127.94 L914.92 127.79 L916.71 127.65 L918.53 127.50 L920.37 127.35 L922.23 127.21 L924.12 127.06 L926.02 126.91 L927.95 126.77 L929.91 126.62 L931.89 126.47 L933.89 126.33 L934.89 126.26 L935.91 126.18 L936.93 126.11 L937.95 126.04 L938.99 125.96 L940.02 125.89 L941.06 125.82 L942.11 125.75 L943.17 125.68 L944.23 125.60 L945.29 125.53 L946.36 125.46 L947.44 125.39 L948.52 125.31 L949.61 125.24 L950.71 125.17 L951.81 125.10 L952.91 125.03 L954.02 124.95 L955.14 124.88 L956.26 124.81 L957.39 124.74 L958.52 124.67 L959.66 124.60 L960.80 124.52 L961.95 124.45 L963.11 124.38 L964.27 124.31 L965.44 124.24 L966.61 124.17 L967.78 124.10 L968.97 124.03 L970.15 123.95 L971.35 123.88 L972.55 123.81 L973.75 123.74 L974.96 123.67 L976.17 123.60 L977.39 123.53 L978.62 123.46 L979.85 123.39 L981.08 123.32 L982.32 123.25 L983.56 123.18 L984.81 123.10 L986.07 123.03 L987.33 122.96 L988.59 122.89 L989.86 122.82 L991.14 122.75 L992.42 122.68 L993.70 122.61 L994.99 122.54 L996.28 122.47 L997.58 122.40 L998.89 122.33 L1000.19 122.26 L1001.51 122.19 L1002.82 122.12 L1004.14 122.05 L1005.47 121.98 L1006.80 121.91 L1008.13 121.84 L1009.47 121.77 L1010.81 121.71 L1012.16 121.64 L1013.51 121.57 L1014.87 121.50 L1016.23 121.43 L1017.59 121.36 L1018.96 121.29 L1020.33 121.22 L1021.70 121.15 L1023.08 121.08 L1024.46 121.01 L1025.85 120.94 L1027.24 120.88 L1028.63 120.81 L1030.03 120.74 L1031.43 120.67 L1032.83 120.60 L1034.24 120.53 L1035.65 120.46 L1037.07 120.39 L1038.48 120.33 L1039.90 120.26 L1041.32 120.19 L1042.75 120.12 L1044.18 120.05 L1045.61 119.98 L1047.05 119.92 L1048.48 119.85 L1049.92 119.78 L1051.36 119.71 L1052.81 119.64 L1054.26 119.58 L1055.71 119.51 L1057.16 119.44 L1058.61 119.37 L1060.07 119.31 L1061.53 119.24 L1062.99 119.17 L1064.45 119.10 L1065.92 119.03 L1067.38 118.97 L1068.85 118.90 L1070.32 118.83 L1071.79 118.77 L1073.27 118.70 L1074.74 118.63 L1076.22 118.56 L1077.70 118.50 L1079.18 118.43 L1080.66 118.36 L1082.14 118.30 L1083.62 118.23 L1085.10 118.16 L1086.59 118.09 L1088.07 118.03 L1089.56 117.96 L1091.05 117.89 L1092.53 117.83 L1094.02 117.76 L1095.51 117.69 L1097.00 117.63 L1098.49 117.56 L1099.98 117.50 L1101.47 117.43 L1102.96 117.36 L1104.44 117.30 L1105.93 117.23 L1107.42 117.16 L1108.91 117.10 L1110.40 117.03 L1111.89 116.97 L1113.38 116.90 L1114.87 116.83 L1116.35 116.77 L1117.84 116.70 L1119.33 116.64 L1120.81 116.57 L1122.30 116.51 L1123.78 116.44 L1125.26 116.37 L1126.74 116.31 L1128.22 116.24 L1129.70 116.18 L1131.18 116.11 L1132.66 116.05 L1134.13 115.98 L1135.61 115.92 L1137.08 115.85 L1138.55 115.79 L1140.02 115.72 L1141.48 115.66 L1142.95 115.59 L1144.41 115.53 L1145.87 115.46 L1147.33 115.40 L1148.79 115.33 L1150.24 115.27 L1151.69 115.20 L1153.14 115.14 L1154.59 115.07 L1156.04 115.01 L1157.48 114.94 L1158.92 114.88 L1160.35 114.82 L1161.79 114.75 L1163.22 114.69 L1164.65 114.62 L1166.08 114.56 L1167.50 114.50 L1168.92 114.43 L1170.33 114.37 L1171.75 114.30 L1173.16 114.24 L1174.57 114.18 L1175.97 114.11 L1177.37 114.05 L1178.77 113.98 L1180.16 113.92 L1181.55 113.86 L1182.94 113.79 L1184.32 113.73 L1185.70 113.67 L1187.07 113.60 L1188.44 113.54 L1189.81 113.48 L1191.17 113.41 L1192.53 113.35 L1193.89 113.29 L1195.24 113.22 L1196.59 113.16 L1197.93 113.10 L1199.27 113.03 L1200.60 112.97 L1201.93 112.91 L1203.26 112.84 L1204.58 112.78 L1205.89 112.72 L1207.21 112.66 L1208.51 112.59 L1209.82 112.53 L1211.12 112.47 L1212.41 112.41 L1213.70 112.34 L1214.98 112.28 L1216.26 112.22 L1217.54 112.16 L1218.81 112.09 L1220.07 112.03 L1221.33 111.97 L1222.59 111.91 L1223.84 111.84 L1225.08 111.78 L1226.32 111.72 L1227.55 111.66 L1228.78 111.60 L1230.01 111.53 L1231.23 111.47 L1232.44 111.41 L1233.65 111.35 L1234.85 111.29 L1236.05 111.23 L1237.25 111.16 L1238.43 111.10 L1239.62 111.04 L1240.79 110.98 L1241.96 110.92 L1243.13 110.86 L1244.29 110.80 L1245.45 110.73 L1246.60 110.67 L1247.74 110.61 L1248.88 110.55 L1250.01 110.49 L1251.14 110.43 L1252.26 110.37 L1253.38 110.31 L1254.49 110.25 L1255.59 110.19 L1256.69 110.12 L1257.79 110.06 L1258.88 110.00 L1259.96 109.94 L1261.04 109.88 L1262.11 109.82 L1263.17 109.76 L1264.23 109.70 L1265.29 109.64 L1266.34 109.58 L1267.38 109.52 L1268.41 109.46 L1269.45 109.40 L1270.47 109.34 L1271.49 109.28 L1272.51 109.22 L1273.51 109.16 L1274.52 109.10 L1276.51 108.98 L1278.47 108.86 L1280.41 108.74 L1282.33 108.62 L1284.23 108.50 L1286.10 108.38 L1287.95 108.26 L1289.78 108.14 L1291.59 108.03 L1293.37 107.91 L1295.13 107.79 L1296.87 107.67 L1298.58 107.55 L1300.28 107.44 L1301.95 107.32 L1303.60 107.20 L1305.22 107.08 L1306.83 106.97 L1308.41 106.85 L1309.97 106.73 L1311.51 106.62 L1313.03 106.50 L1314.53 106.39 L1316.01 106.27 L1317.46 106.16 L1318.90 106.04 L1320.31 105.92 L1321.71 105.81 L1323.08 105.69 L1324.43 105.58 L1325.77 105.47 L1327.08 105.35 L1328.38 105.24 L1329.65 105.12 L1330.91 105.01 L1332.14 104.90 L1333.36 104.78 L1334.56 104.67 L1335.74 104.56 L1336.90 104.44 L1338.05 104.33 L1339.18 104.22 L1340.28 104.11 L1341.38 103.99 L1342.45 103.88 L1343.51 103.77 L1344.55 103.66 L1345.57 103.55 L1346.58 103.44 L1348.06 103.27 L1349.50 103.10 L1350.91 102.94 L1352.29 102.77 L1353.63 102.61 L1354.93 102.44 L1356.21 102.28 L1357.45 102.12 L1358.66 101.95 L1359.84 101.79 L1360.99 101.63 L1362.11 101.46 L1363.20 101.30 L1364.27 101.14 L1365.30 100.98 L1366.31 100.82 L1367.62 100.61 L1368.88 100.39 L1370.09 100.18 L1371.27 99.97 L1372.40 99.76 L1373.49 99.55 L1374.54 99.34 L1375.56 99.13 L1376.53 98.92 L1377.71 98.66 L1378.83 98.40 L1379.90 98.15 L1380.92 97.89 L1381.90 97.63 L1383.01 97.33 L1384.06 97.03 L1385.05 96.72 L1386.14 96.37 L1387.16 96.03 L1388.12 95.68 L1389.13 95.29 L1390.07 94.89 L1391.05 94.46 L1392.03 93.98 L1392.93 93.50 L1393.82 92.98 L1394.69 92.42 L1395.53 91.81 L1396.31 91.17 L1397.09 90.44 L1397.79 89.68 L1398.41 88.89 L1398.99 88.02 L1399.48 87.13 L1399.90 86.21 L1400.25 85.26 L1400.54 84.30 L1400.77 83.31 L1400.96 82.31 L1401.11 81.29 L1401.23 80.30 L1401.32 79.29 L1401.39 78.28 L1401.44 77.25 L1401.49 76.22 L1401.52 75.21 L1401.54 74.21 L1401.56 73.20 L1401.57 72.19 L1401.58 71.18 L1401.58 70.18 L1401.59 69.15 L1401.59 68.14 L1401.60 67.13 L1401.60 66.11 L1401.60 65.11 L1401.60 64.11 L1401.60 63.10 L1401.60 62.10 L1401.60 61.08 L1401.60 60.07 L1401.60 59.07 L1401.60 58.06 L1401.60 57.05 L1401.60 56.04 L1401.60 55.03 L1401.60 54.02 L1401.60 53.02 L1401.60 52.01 L1401.60 51.01 L1401.60 50.01 L1401.60 49.00 L1401.60 48.00 L1401.60 47.00 L1401.60 46.00 L1401.60 45.00 L1401.60 44.00 L1401.60 43.00 L1401.60 42.00 L1401.60 41.30" fill="none" stroke="#111111" stroke-width="2.8" stroke-linejoin="round"/>
<text transform="translate(308.29 30.20) scale(0.990 1)" font-size="28.5" fill="#232e56" font-family="&apos;Liberation Sans&apos;, sans-serif"  stroke="#232e56" stroke-width="0.4">SROC of 4AT</text>
<text transform="translate(42.63 50.29) scale(0.985 1)" font-size="27.5" fill="#1c1c1c" font-family="&apos;Liberation Sans&apos;, sans-serif"  stroke="#1c1c1c" stroke-width="0.4">1.0</text>
<text transform="translate(42.63 348.29) scale(0.985 1)" font-size="27.5" fill="#1c1c1c" font-family="&apos;Liberation Sans&apos;, sans-serif"  stroke="#1c1c1c" stroke-width="0.4">0.5</text>
<text transform="translate(42.63 646.29) scale(0.985 1)" font-size="27.5" fill="#1c1c1c" font-family="&apos;Liberation Sans&apos;, sans-serif"  stroke="#1c1c1c" stroke-width="0.4">0.0</text>
<text transform="translate(77.00 677.10) scale(0.985 1)" font-size="27.5" fill="#1c1c1c" font-family="&apos;Liberation Sans&apos;, sans-serif"  stroke="#1c1c1c" stroke-width="0.4">1.0</text>
<text transform="translate(375.72 677.10) scale(0.985 1)" font-size="27.5" fill="#1c1c1c" font-family="&apos;Liberation Sans&apos;, sans-serif"  stroke="#1c1c1c" stroke-width="0.4">0.5</text>
<text transform="translate(673.97 677.10) scale(0.985 1)" font-size="27.5" fill="#1c1c1c" font-family="&apos;Liberation Sans&apos;, sans-serif"  stroke="#1c1c1c" stroke-width="0.4">0.0</text>
<text transform="translate(333.76 702.20) scale(1.030 1)" font-size="26" fill="#1c1c1c" font-family="&apos;Liberation Sans&apos;, sans-serif"  stroke="#1c1c1c" stroke-width="0.4">Specificity</text>
<text transform="translate(25.70 398.65) rotate(-90) scale(1.025 1)" font-size="26" fill="#1c1c1c" stroke="#1c1c1c" stroke-width="0.4" font-family="&apos;Liberation Sans&apos;, sans-serif">Sensitivity</text>
<text transform="translate(992.34 32.00) scale(0.990 1)" font-size="28.5" fill="#232e56" font-family="&apos;Liberation Sans&apos;, sans-serif"  stroke="#232e56" stroke-width="0.4">SROC of MOTYB</text>
<text transform="translate(750.53 51.69) scale(0.985 1)" font-size="27.5" fill="#1c1c1c" font-family="&apos;Liberation Sans&apos;, sans-serif"  stroke="#1c1c1c" stroke-width="0.4">1.0</text>
<text transform="translate(750.53 350.04) scale(0.985 1)" font-size="27.5" fill="#1c1c1c" font-family="&apos;Liberation Sans&apos;, sans-serif"  stroke="#1c1c1c" stroke-width="0.4">0.5</text>
<text transform="translate(750.53 648.39) scale(0.985 1)" font-size="27.5" fill="#1c1c1c" font-family="&apos;Liberation Sans&apos;, sans-serif"  stroke="#1c1c1c" stroke-width="0.4">0.0</text>
<text transform="translate(785.70 679.10) scale(0.985 1)" font-size="27.5" fill="#1c1c1c" font-family="&apos;Liberation Sans&apos;, sans-serif"  stroke="#1c1c1c" stroke-width="0.4">1.0</text>
<text transform="translate(1084.67 679.10) scale(0.985 1)" font-size="27.5" fill="#1c1c1c" font-family="&apos;Liberation Sans&apos;, sans-serif"  stroke="#1c1c1c" stroke-width="0.4">0.5</text>
<text transform="translate(1383.17 679.10) scale(0.985 1)" font-size="27.5" fill="#1c1c1c" font-family="&apos;Liberation Sans&apos;, sans-serif"  stroke="#1c1c1c" stroke-width="0.4">0.0</text>
<text transform="translate(1041.86 704.60) scale(1.030 1)" font-size="26" fill="#1c1c1c" font-family="&apos;Liberation Sans&apos;, sans-serif"  stroke="#1c1c1c" stroke-width="0.4">Specificity</text>
<text transform="translate(734.40 400.65) rotate(-90) scale(1.025 1)" font-size="26" fill="#1c1c1c" stroke="#1c1c1c" stroke-width="0.4" font-family="&apos;Liberation Sans&apos;, sans-serif">Sensitivity</text>
<ellipse cx="1422.6" cy="700" rx="1.8" ry="4.2" fill="#8a8a8a"/>
</g></svg></body></html>
